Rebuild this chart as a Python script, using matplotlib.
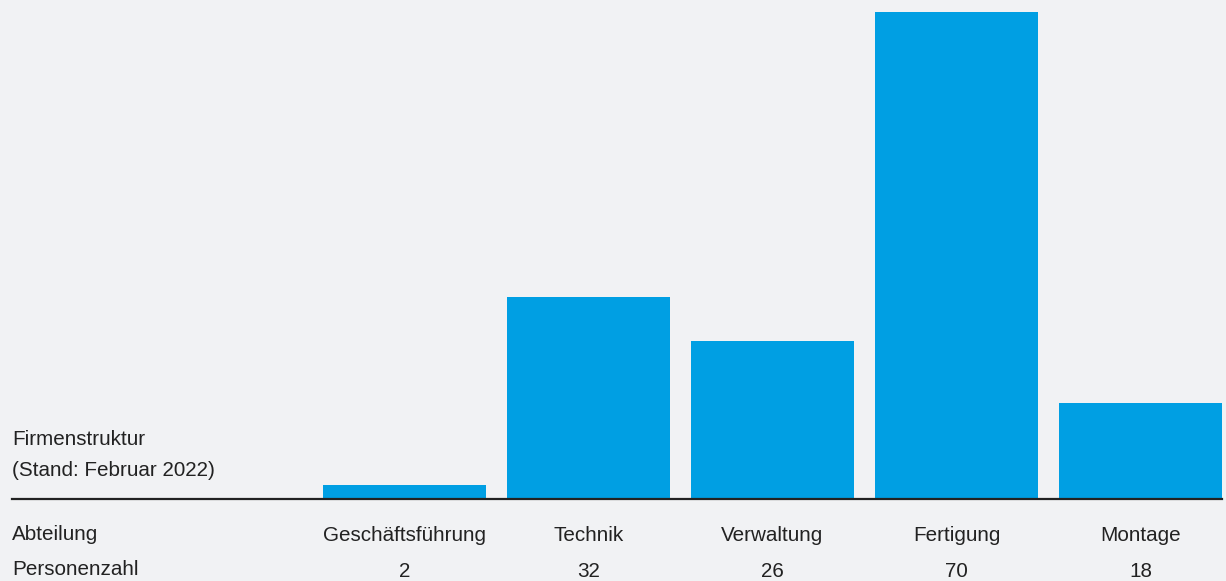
import matplotlib
matplotlib.use("Agg")
import matplotlib.pyplot as plt

# Daten aus der Grafik
abteilungen = ["Geschäftsführung", "Technik", "Verwaltung", "Fertigung", "Montage"]
personenzahl = [2, 32, 26, 70, 18]
# Balkenhöhen (Grafik ist nicht maßstabsgetreu)
balkenhoehe = [14, 202, 158, 487, 96]

titel = "Firmenstruktur"
untertitel = "(Stand: Februar 2022)"
zeile1 = "Abteilung"
zeile2 = "Personenzahl"

W, H = 1226, 581
bg = "#f1f2f4"
blau = "#009fe3"
textfarbe = "#222222"

plt.rcParams["font.family"] = ["Liberation Sans", "DejaVu Sans"]

fig = plt.figure(figsize=(W / 100, H / 100), dpi=100, facecolor=bg)


def fx(px):
    return px / W


def fy(py):
    return 1 - py / H


# axes: x 12..1222 px, y 0..499 px (Grundlinie)
ax = fig.add_axes([fx(12), fy(499), fx(1222) - fx(12), fy(0) - fy(499)])
ax.set_facecolor(bg)
pos = list(range(len(abteilungen)))
ax.bar(pos, balkenhoehe, width=163 / 184, color=blau, linewidth=0)
ax.set_xlim((12 - 404.5) / 184, 4 + 81.5 / 184)
ax.set_ylim(0, 499)
ax.axis("off")
ax.axhline(0, color=textfarbe, linewidth=1.6, clip_on=False)

fs = 14.9
fig.text(fx(12), fy(445), titel, fontsize=fs, color=textfarbe, va="baseline")
fig.text(fx(12), fy(476), untertitel, fontsize=fs, color=textfarbe, va="baseline")
fig.text(fx(12), fy(540), zeile1, fontsize=fs, color=textfarbe, va="baseline")
fig.text(fx(12), fy(575), zeile2, fontsize=fs, color=textfarbe, va="baseline")

for i, (name, n) in enumerate(zip(abteilungen, personenzahl)):
    xc = ax.transData.transform((i, 0))[0]
    fig.text(xc / W, fy(541), name, fontsize=fs, color=textfarbe,
             ha="center", va="baseline")
    fig.text(xc / W, fy(577), str(n), fontsize=fs, color=textfarbe,
             ha="center", va="baseline")

fig.savefig("out.png", dpi=100, facecolor=bg)
